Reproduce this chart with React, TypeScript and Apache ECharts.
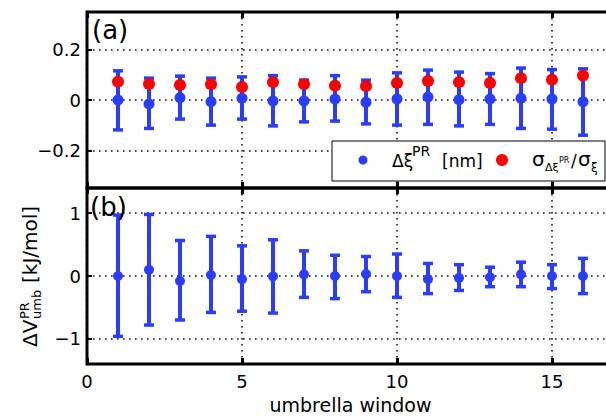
import React, { useEffect, useRef } from "react";
import * as echarts from "echarts";

const windows = [1, 2, 3, 4, 5, 6, 7, 8, 9, 10, 11, 12, 13, 14, 15, 16];
// panel (a): Δξ^PR [nm] mean and error-bar ends, and σ ratio
const dxiMean = [0.0, -0.016, 0.009, -0.007, 0.007, -0.004, -0.004, 0.004, -0.009, 0.004, 0.012, 0.001, 0.004, 0.007, 0.004, -0.007];
const dxiLow = [-0.119, -0.113, -0.076, -0.1, -0.076, -0.103, -0.087, -0.084, -0.095, -0.1, -0.097, -0.103, -0.097, -0.113, -0.116, -0.14];
const dxiHigh = [0.116, 0.087, 0.095, 0.087, 0.092, 0.097, 0.079, 0.097, 0.079, 0.108, 0.119, 0.111, 0.105, 0.127, 0.121, 0.124];
const sigmaRatio = [0.073, 0.064, 0.06, 0.063, 0.052, 0.071, 0.063, 0.057, 0.055, 0.068, 0.076, 0.071, 0.068, 0.087, 0.081, 0.097];
// panel (b): ΔV^PR_umb [kJ/mol]
const dvMean = [0.0, 0.1, -0.08, 0.016, -0.05, -0.005, 0.025, 0.0, 0.03, 0.0, -0.05, -0.03, -0.02, 0.025, 0.0, 0.0];
const dvLow = [-0.96, -0.78, -0.7, -0.58, -0.56, -0.59, -0.34, -0.36, -0.25, -0.34, -0.28, -0.23, -0.17, -0.17, -0.2, -0.28];
const dvHigh = [0.97, 0.98, 0.565, 0.63, 0.48, 0.576, 0.4, 0.33, 0.31, 0.35, 0.2, 0.18, 0.14, 0.22, 0.18, 0.28];

const xTicks = [0, 5, 10, 15];
const yTicksA = [-0.2, 0, 0.2];
const yTicksB = [-1, 0, 1];

const BLUE = "#2a3cff";
const RED = "#ff0000";
const FONT = "DejaVu Sans";

const fmt = (v: number) => (v === 0 ? "0" : v < 0 ? "\u2212" + Math.abs(v) : String(v));

function errorBarRender(params: any, api: any) {
  const x = api.value(0);
  const lo = api.value(1);
  const hi = api.value(2);
  const p1 = api.coord([x, hi]);
  const p2 = api.coord([x, lo]);
  const cw = 5;
  return {
    type: "group",
    children: [
      { type: "line", shape: { x1: p1[0], y1: p1[1], x2: p2[0], y2: p2[1] }, style: { stroke: BLUE, lineWidth: 4 } },
      { type: "line", shape: { x1: p1[0] - cw, y1: p1[1], x2: p1[0] + cw, y2: p1[1] }, style: { stroke: BLUE, lineWidth: 3.5 } },
      { type: "line", shape: { x1: p2[0] - cw, y1: p2[1], x2: p2[0] + cw, y2: p2[1] }, style: { stroke: BLUE, lineWidth: 3.5 } },
    ],
  };
}

const dotted = { color: "#111", width: 1.6, type: [1.6, 4.4] as any };

function xAxisDef(grid: number, pos: "top" | "bottom", labels: boolean, split: boolean): any {
  return {
    gridIndex: grid,
    type: "value",
    min: 0,
    max: 17,
    interval: 5,
    position: pos,
    axisLine: { show: false, onZero: false },
    axisTick: { show: true, inside: true, length: 6, lineStyle: { color: "#000", width: 3 } },
    axisLabel: labels
      ? { show: true, margin: 8, color: "#000", fontSize: 18, fontFamily: FONT, formatter: (v: number) => (xTicks.includes(v) ? String(v) : "") }
      : { show: false },
    splitLine: split ? { show: true, lineStyle: dotted } : { show: false },
    name: labels ? "umbrella window" : "",
    nameLocation: "middle",
    nameGap: 31,
    nameTextStyle: { color: "#000", fontSize: 19, fontFamily: FONT },
  };
}

function yAxisDef(grid: number, min: number, max: number, ticks: number[]): any {
  return {
    gridIndex: grid,
    type: "value",
    min,
    max,
    axisLine: { show: false, onZero: false },
    axisTick: { show: true, inside: true, length: 5, customValues: ticks, lineStyle: { color: "#000", width: 2 } },
    axisLabel: { show: true, margin: 6, color: "#000", fontSize: 18, fontFamily: FONT, customValues: ticks, formatter: fmt },
    splitLine: { show: true, lineStyle: dotted },
  };
}

function txt(text: string, x: number, baseline: number, size: number, extra: any = {}): any {
  return {
    type: "text",
    x,
    y: baseline - 0.346 * size,
    z: 100,
    style: { text, fill: "#000", font: `${size}px "${FONT}"`, verticalAlign: "middle", align: "left", ...extra },
  };
}

export default function App() {
  const ref = useRef<HTMLDivElement>(null);
  useEffect(() => {
    if (!ref.current) return;
    const chart = echarts.init(ref.current, undefined, { renderer: "svg" });
    const errA = windows.map((w, i) => [w, dxiLow[i], dxiHigh[i]]);
    const errB = windows.map((w, i) => [w, dvLow[i], dvHigh[i]]);
    const ptsA = windows.map((w, i) => [w, dxiMean[i]]);
    const ptsR = windows.map((w, i) => [w, sigmaRatio[i]]);
    const ptsB = windows.map((w, i) => [w, dvMean[i]]);

    const ylabelSize = 20;
    const subSize = 13;
    const gridBase = {
      left: 87,
      width: 527,
      height: 176,
      show: true,
      borderColor: "#000",
      borderWidth: 3,
      backgroundColor: "transparent",
      containLabel: false,
      outerBoundsMode: "none",
    };
    const option: any = {
      animation: false,
      backgroundColor: "#fff",
      grid: [
        { ...gridBase, top: 12 },
        { ...gridBase, top: 188 },
      ],
      xAxis: [xAxisDef(0, "bottom", false, true), xAxisDef(0, "top", false, false), xAxisDef(1, "bottom", true, true), xAxisDef(1, "top", false, false)],
      yAxis: [yAxisDef(0, -0.35, 0.35, yTicksA), yAxisDef(1, -1.4, 1.4, yTicksB)],
      series: [
        { type: "custom", name: "errA", xAxisIndex: 0, yAxisIndex: 0, renderItem: errorBarRender, data: errA, encode: { x: 0, y: [1, 2] }, z: 2, silent: true },
        { type: "scatter", name: "Δξ", xAxisIndex: 0, yAxisIndex: 0, data: ptsA, symbolSize: 11, itemStyle: { color: BLUE, opacity: 1 }, z: 3 },
        { type: "scatter", name: "σ", xAxisIndex: 0, yAxisIndex: 0, data: ptsR, symbolSize: 12, itemStyle: { color: RED, opacity: 1 }, z: 4 },
        { type: "custom", name: "errB", xAxisIndex: 2, yAxisIndex: 1, renderItem: errorBarRender, data: errB, encode: { x: 0, y: [1, 2] }, z: 2, silent: true },
        { type: "scatter", name: "ΔV", xAxisIndex: 2, yAxisIndex: 1, data: ptsB, symbolSize: 10, itemStyle: { color: BLUE, opacity: 1 }, z: 3 },
      ],
      graphic: [
        txt("(a)", 92, 39, 26),
        txt("(b)", 90, 216, 26),
        { type: "rect", z: 100, shape: { x: 332, y: 141, width: 273, height: 40 }, style: { fill: "#fff", stroke: "#000", lineWidth: 1 } },
        { type: "circle", z: 101, shape: { cx: 363, cy: 160, r: 4.5 }, style: { fill: BLUE } },
        { type: "circle", z: 101, shape: { cx: 502, cy: 160, r: 6 }, style: { fill: RED } },
        txt("Δξ", 392, 167, 17),
        txt("PR", 412, 156, 14),
        txt("[nm]", 442, 167, 17),
        txt("σ", 532, 166, 20),
        txt("Δξ", 545, 171, 11),
        txt("PR", 559, 163, 8),
        txt("/", 571, 167, 17),
        txt("σ", 578, 166, 20),
        txt("ξ", 591, 172, 12),
        {
          type: "group",
          x: 37,
          y: 347,
          rotation: Math.PI / 2,
          z: 100,
          children: [
            { type: "text", x: 0, y: -0.346 * ylabelSize, style: { text: "ΔV", fill: "#000", font: `${ylabelSize}px "${FONT}"`, verticalAlign: "middle" } },
            { type: "text", x: 28, y: -8 - 0.346 * subSize, style: { text: "PR", fill: "#000", font: `${subSize}px "${FONT}"`, verticalAlign: "middle" } },
            { type: "text", x: 28, y: 4 - 0.346 * subSize, style: { text: "umb", fill: "#000", font: `${subSize}px "${FONT}"`, verticalAlign: "middle" } },
            { type: "text", x: 64, y: -0.346 * ylabelSize, style: { text: "[kJ/mol]", fill: "#000", font: `${ylabelSize}px "${FONT}"`, verticalAlign: "middle" } },
          ],
        },
      ],
    };
    chart.setOption(option);
    return () => chart.dispose();
  }, []);
  return <div ref={ref} style={{ position: "fixed", left: 0, top: 0, width: 606, height: 416 }} />;
}
